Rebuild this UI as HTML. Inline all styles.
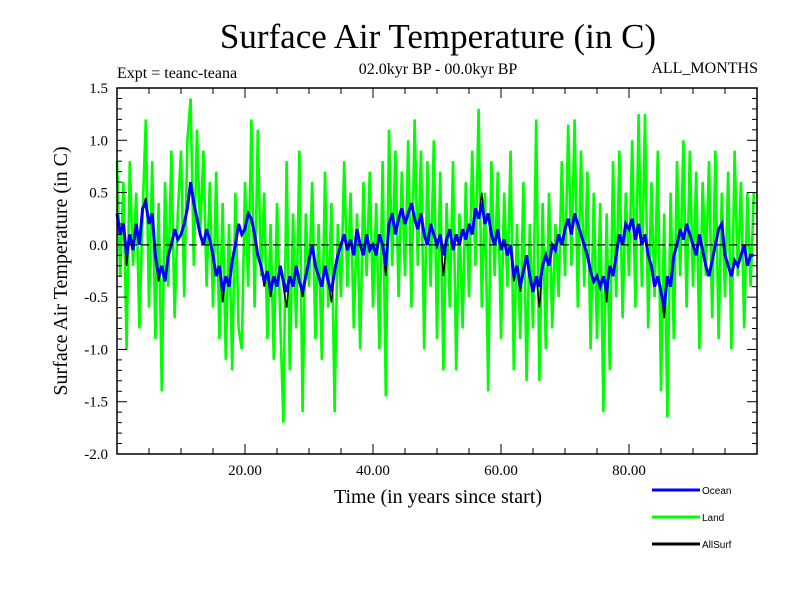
<!DOCTYPE html>
<html><head><meta charset="utf-8"><style>
body{margin:0;background:#fff}
svg text{font-family:"Liberation Serif",serif}
</style></head><body>
<svg id="c" width="800" height="600" xmlns="http://www.w3.org/2000/svg">
<rect width="800" height="600" fill="#fff"/>
<text x="438" y="48" font-size="35" text-anchor="middle">Surface Air Temperature (in C)</text>
<text x="117" y="78" font-size="16">Expt = teanc-teana</text>
<text x="438" y="74" font-size="16" text-anchor="middle">02.0kyr BP - 00.0kyr BP</text>
<text x="758" y="73" font-size="16" text-anchor="end">ALL_MONTHS</text>
<text x="438" y="503" font-size="20" text-anchor="middle">Time (in years since start)</text>
<text transform="translate(67,271) rotate(-90)" font-size="20" text-anchor="middle">Surface Air Temperature (in C)</text>
<g id="plot"></g>
<g id="axes"></g>
<g id="legend"></g>
</svg>
<script>
const land=[0.8,-0.3,0.6,-1.0,0.8,-0.2,0.5,-0.8,0.3,1.2,
-0.6,0.8,-0.9,0.4,-1.4,0.6,-0.4,0.9,-0.7,0.3,
0.9,-0.5,1.0,1.4,-0.2,1.1,0.1,0.9,-0.4,0.6,
-0.6,0.7,-0.9,0.4,-1.1,0.2,-1.2,0.5,-0.8,-1.0,
0.6,-0.4,1.2,-0.6,1.1,-0.3,0.5,-0.9,0.2,-1.1,
0.4,-0.7,-1.7,0.8,-1.2,0.3,-0.8,0.9,-1.6,0.3,
-0.4,0.6,-0.9,0.2,-1.1,0.7,-0.6,0.4,-1.6,0.2,
-0.5,0.8,-0.4,0.5,-0.8,0.3,-1.0,0.6,-0.3,0.7,
-0.6,0.4,-1.0,0.8,-1.45,1.1,-0.2,0.9,-0.5,0.7,
-0.3,1.0,-0.6,1.2,-0.2,0.9,-1.0,0.8,-0.4,1.0,
-0.9,0.7,-1.2,0.4,-0.6,0.8,-1.2,0.3,-0.8,0.6,
-0.5,0.9,-0.2,1.3,-0.6,0.5,-1.4,0.8,-0.3,0.7,
-0.9,0.5,-0.4,0.9,-1.2,0.2,-0.9,0.6,-1.3,0.2,
-0.8,1.2,-1.3,0.4,-1.0,0.5,-0.8,0.2,-0.5,0.8,
-0.3,1.15,-0.2,1.2,-0.6,0.9,-0.4,0.7,-1.0,0.5,
-0.9,0.4,-1.6,0.3,-1.2,0.8,-0.5,0.9,-0.7,0.5,
-0.3,1.0,-0.6,1.25,-0.4,1.25,-0.8,0.6,-0.5,0.9,
-1.4,0.3,-1.65,0.5,-0.9,0.8,-0.3,1.0,-0.6,0.9,
-0.4,0.7,-1.0,0.6,-0.3,0.8,-0.7,0.9,-0.9,0.5,
-0.5,0.7,-1.0,0.9,-0.3,0.6,-0.8,0.5,-0.4,0.5];
const ocean=[0.3,0.1,0.2,-0.1,0.1,-0.05,0.2,0.0,0.35,0.4,
0.2,0.3,-0.1,-0.3,-0.2,-0.35,-0.1,0.0,0.15,0.05,
0.1,0.2,0.35,0.6,0.4,0.25,0.1,0.0,0.15,0.05,
-0.1,-0.3,-0.2,-0.45,-0.3,-0.4,-0.15,0.0,0.2,0.1,
0.15,0.3,0.25,0.1,-0.1,-0.2,-0.35,-0.25,-0.45,-0.3,
-0.4,-0.2,-0.35,-0.45,-0.3,-0.4,-0.2,-0.35,-0.45,-0.3,
-0.15,0.0,-0.2,-0.3,-0.4,-0.2,-0.35,-0.45,-0.25,-0.1,
0.0,0.1,-0.05,0.05,-0.1,0.15,0.0,-0.1,0.1,-0.05,
0.0,-0.1,0.1,0.0,-0.2,0.2,0.3,0.1,0.25,0.35,
0.2,0.3,0.4,0.25,0.15,0.3,0.1,0.0,0.2,0.1,
0.0,0.1,-0.1,0.05,0.15,-0.05,0.1,0.0,0.15,0.05,
0.2,0.1,0.35,0.25,0.4,0.2,0.3,0.1,0.0,0.15,
-0.05,0.05,-0.1,0.0,-0.3,-0.2,-0.4,-0.25,-0.1,-0.3,
-0.45,-0.3,-0.4,-0.2,-0.1,-0.2,0.0,-0.05,0.1,0.0,
0.15,0.25,0.1,0.3,0.2,0.1,0.0,-0.1,-0.25,-0.35,
-0.3,-0.4,-0.3,-0.45,-0.2,-0.3,-0.1,0.1,0.0,0.2,
0.15,0.25,0.05,0.2,0.0,0.1,-0.1,-0.2,-0.4,-0.3,
-0.45,-0.6,-0.3,-0.4,-0.1,0.0,0.15,0.05,0.2,0.1,
0.0,-0.1,0.1,-0.05,-0.2,-0.3,-0.15,0.0,0.15,0.2,
-0.1,-0.2,-0.3,-0.15,-0.2,-0.1,0.0,-0.2,-0.1,-0.1];
const allsurf=[0.3,0.15,0.2,-0.2,0.1,-0.05,0.2,0.0,0.35,0.45,
0.2,0.3,-0.15,-0.35,-0.2,-0.35,-0.1,0.0,0.15,0.05,
0.1,0.2,0.35,0.6,0.4,0.25,0.1,0.0,0.15,0.05,
-0.1,-0.3,-0.2,-0.55,-0.3,-0.4,-0.15,0.0,0.2,0.1,
0.15,0.3,0.25,0.1,-0.1,-0.2,-0.4,-0.25,-0.5,-0.3,
-0.4,-0.2,-0.4,-0.6,-0.3,-0.4,-0.2,-0.35,-0.5,-0.3,
-0.15,0.0,-0.2,-0.3,-0.4,-0.2,-0.35,-0.55,-0.25,-0.1,
0.0,0.1,-0.05,0.05,-0.1,0.15,0.0,-0.1,0.1,-0.05,
0.0,-0.1,0.1,0.0,-0.3,0.2,0.3,0.1,0.25,0.35,
0.2,0.3,0.4,0.25,0.15,0.3,0.1,0.0,0.2,0.1,
0.0,0.1,-0.3,0.05,0.15,-0.05,0.1,0.0,0.15,0.05,
0.2,0.1,0.35,0.25,0.5,0.2,0.3,0.1,0.0,0.15,
-0.05,0.05,-0.1,0.0,-0.35,-0.2,-0.45,-0.25,-0.1,-0.3,
-0.45,-0.3,-0.6,-0.2,-0.1,-0.2,0.0,-0.05,0.1,0.0,
0.15,0.25,0.1,0.3,0.2,0.1,0.0,-0.1,-0.25,-0.35,
-0.3,-0.4,-0.3,-0.55,-0.2,-0.3,-0.1,0.1,0.0,0.2,
0.15,0.25,0.05,0.2,0.0,0.1,-0.1,-0.2,-0.4,-0.3,
-0.45,-0.7,-0.3,-0.4,-0.1,0.0,0.15,0.05,0.2,0.1,
0.0,-0.1,0.1,-0.05,-0.2,-0.3,-0.15,0.0,0.15,0.2,
-0.1,-0.2,-0.3,-0.15,-0.2,-0.1,0.0,-0.2,-0.1,-0.1];
const yTicks=[1.5,1.0,0.5,0.0,-0.5,-1.0,-1.5,-2.0];
const yTickLabels=["1.5","1.0","0.5","0.0","-0.5","-1.0","-1.5","-2.0"];
const xTicks=[20,40,60,80];
const xTickLabels=["20.00","40.00","60.00","80.00"];
const legendNames=["Ocean","Land","AllSurf"];
const legendColors=["#0000ff","#00ff00","#000000"];

const L=117,R=757,T=88,B=454,X0=0,X1=100,Y0=-2.0,Y1=1.5;
const sx=v=>L+(v-X0)/(X1-X0)*(R-L);
const sy=v=>B-(v-Y0)/(Y1-Y0)*(B-T);
const NS="http://www.w3.org/2000/svg";
function mk(tag,attrs,parent){const e=document.createElementNS(NS,tag);for(const k in attrs)e.setAttribute(k,attrs[k]);parent.appendChild(e);return e;}
const plot=document.getElementById('plot'),axes=document.getElementById('axes'),leg=document.getElementById('legend');

function series(arr,step,color,w,name){
  const pts=arr.map((v,i)=>sx(i*step).toFixed(1)+','+sy(v).toFixed(1)).join(' ');
  const p=mk('polyline',{points:pts,fill:'none',stroke:color,'stroke-width':w,'stroke-linejoin':'miter'},plot);
  
  
}
series(land,100/land.length,'#00ff00',2.6,'land-line');
series(allsurf,100/allsurf.length,'#000000',1.5,'allsurf-line');
series(ocean,100/ocean.length,'#0000ff',3,'ocean-line');
const z=mk('line',{x1:L,x2:R,y1:sy(0),y2:sy(0),stroke:'#000','stroke-width':1.2,'stroke-dasharray':'8,4'},plot);



const fr=mk('rect',{x:L,y:T,width:R-L,height:B-T,fill:'none',stroke:'#000','stroke-width':1.5},axes);


for(let k=-20;k<=15;k++){const v=k/10,y=sy(v),len=(k%5===0)?10:5;
  mk('line',{x1:L,x2:L+len,y1:y,y2:y,stroke:'#000','stroke-width':1},axes);
  mk('line',{x1:R,x2:R-len,y1:y,y2:y,stroke:'#000','stroke-width':1},axes);}
for(let yr=5;yr<100;yr+=5){const x=sx(yr),len=(yr%20===0)?10:6;
  mk('line',{x1:x,x2:x,y1:B,y2:B-len,stroke:'#000','stroke-width':1},axes);
  mk('line',{x1:x,x2:x,y1:T,y2:T+len,stroke:'#000','stroke-width':1},axes);}
yTicks.forEach((v,i)=>{const t=mk('text',{x:108,y:sy(v)+5,'font-size':15,'text-anchor':'end'},axes);t.textContent=yTickLabels[i];
  
  });
xTicks.forEach((v,i)=>{const t=mk('text',{x:sx(v),y:475,'font-size':15,'text-anchor':'middle'},axes);t.textContent=xTickLabels[i];
  
  });
legendNames.forEach((n,i)=>{const y=490+i*27;
  const g=mk('g',{},leg);
  
  
  mk('line',{x1:652,x2:700,y1:y,y2:y,stroke:legendColors[i],'stroke-width':3},g);
  const t=mk('text',{x:702,y:y+4,'font-size':10,style:'font-family:"Liberation Sans",sans-serif'},g);t.textContent=n;});
</script>
</body></html>
